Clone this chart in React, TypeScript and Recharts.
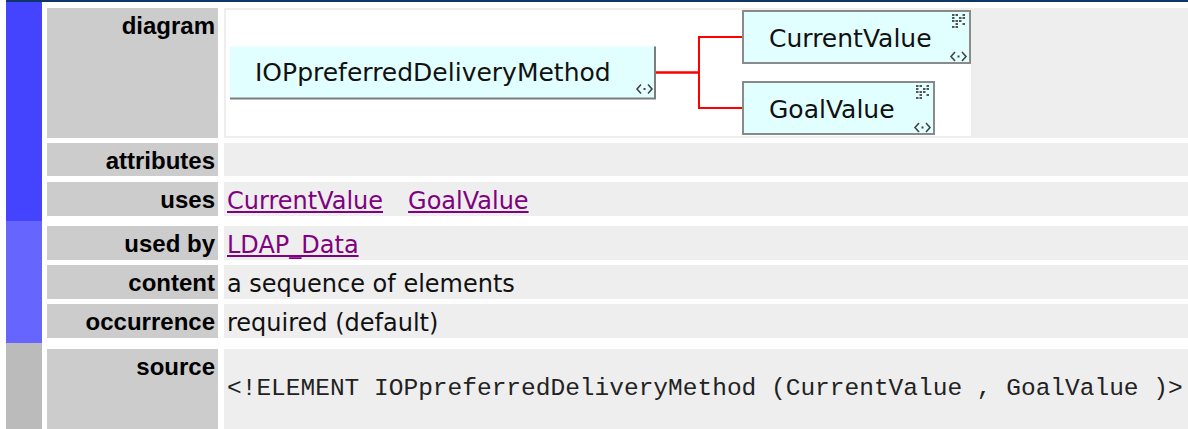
import React from 'react';
import { ComposedChart, Line, Scatter, XAxis, YAxis } from 'recharts';

// schema tree shown in the "diagram" row
const nodeNames = ['IOPpreferredDeliveryMethod', 'CurrentValue', 'GoalValue'];
const nodeLevels = [0, 1, 1]; // 0 = element, 1 = its children
const nodeRows = [0.5, 0, 1];
const nodeParents = [-1, 0, 0];

// documentation rows
const rowLabels = ['diagram', 'attributes', 'uses', 'used by', 'content', 'occurrence', 'source'];
const usesLinks = ['CurrentValue', 'GoalValue'];
const usedByLinks = ['LDAP_Data'];
const contentText = 'a sequence of elements';
const occurrenceText = 'required (default)';
const sourceText = '<!ELEMENT IOPpreferredDeliveryMethod (CurrentValue , GoalValue )>';

// layout (pixels)
const rowTops = [8, 143, 182, 226, 265, 304, 349];
const rowHeights = [130, 33, 34, 34, 34, 34, 80];
const boxWidth: Record<string, number> = { IOPpreferredDeliveryMethod: 426, CurrentValue: 229, GoalValue: 193 };

const LABEL_FONT = '"Liberation Sans", Arial, sans-serif';
const TEXT_FONT = '"DejaVu Sans", Verdana, sans-serif';
const MONO_FONT = '"Liberation Mono", "Courier New", monospace';

const nodes = nodeNames.map((name, i) => ({ name, level: nodeLevels[i], row: nodeRows[i] }));
const links = nodeParents
  .map((p, i) => (p < 0 ? null : [
    { level: nodeLevels[p], row: nodeRows[p] },
    { level: nodeLevels[i], row: nodeRows[i] },
  ]))
  .filter(Boolean) as { level: number; row: number }[][];

const AnyIcon = ({ x, y }: { x: number; y: number }) => (
  <g stroke="#444" strokeWidth={1.6} fill="none">
    <path d={`M${x + 4},${y} L${x},${y + 4.5} L${x + 4},${y + 9}`} />
    <path d={`M${x + 11},${y} L${x + 15},${y + 4.5} L${x + 11},${y + 9}`} />
    <rect x={x + 6.5} y={y + 3.5} width={2} height={2} fill="#444" stroke="none" />
  </g>
);

const gridDots = [
  [0, 0], [1, 0], [3, 0],
  [0, 1], [2, 1], [3, 1],
  [0, 2], [1, 2], [2, 2],
  [1, 3], [3, 3],
  [0, 4], [1, 4],
];

const SeqIcon = ({ x, y }: { x: number; y: number }) => (
  <g fill="#555">
    {gridDots.map(([c, r], i) => (
      <rect key={i} x={x + c * 3.5} y={y + r * 3} width={2.5} height={2} />
    ))}
  </g>
);

const NodeShape = (props: any) => {
  const { cx, cy, payload } = props;
  const w = boxWidth[payload.name];
  if (payload.level === 0) {
    const x = cx - w;
    const top = cy - 26;
    const h = 52;
    return (
      <g>
        <rect x={x} y={top} width={w} height={h} fill="#e2ffff" />
        <path d={`M${cx - 1},${top} L${cx - 1},${top + h} L${x},${top + h}`} stroke="#7c7c7c" strokeWidth={2} fill="none" />
        <text x={x + 25} y={cy + 8} fontFamily={TEXT_FONT} fontSize={25} fill="#111">{payload.name}</text>
        <AnyIcon x={cx - 19} y={top + h - 14} />
      </g>
    );
  }
  const x = cx + 1;
  const top = cy - 26;
  return (
    <g>
      <rect x={x} y={top} width={w - 2} height={52} fill="#e2ffff" stroke="#8a8a8a" strokeWidth={2} />
      <text x={cx + 27} y={cy + 10} fontFamily={TEXT_FONT} fontSize={25} fill="#111">{payload.name}</text>
      <SeqIcon x={cx + w - 19} y={top + 3} />
      <AnyIcon x={cx + w - 20} y={top + 41} />
    </g>
  );
};

function Diagram() {
  return (
    <ComposedChart width={745} height={126} margin={{ top: 27, right: 229, bottom: 28, left: 430 }}>
      <XAxis dataKey="level" type="number" domain={[0, 1]} hide />
      <YAxis dataKey="row" type="number" domain={[0, 1]} reversed hide />
      {links.map((d, i) => (
        <Line
          key={i}
          data={d}
          dataKey="row"
          type="step"
          stroke="#ff0000"
          strokeWidth={2}
          dot={false}
          activeDot={false}
          isAnimationActive={false}
        />
      ))}
      <Scatter data={nodes} dataKey="row" shape={NodeShape} isAnimationActive={false} />
    </ComposedChart>
  );
}

const linkStyle: React.CSSProperties = { color: '#800080', textDecoration: 'underline' };

function rowContent(label: string) {
  switch (label) {
    case 'diagram':
      return (
        <div style={{ position: 'absolute', left: 2, top: 2, width: 745, height: 126, background: '#fff' }}>
          <Diagram />
        </div>
      );
    case 'uses':
      return usesLinks.map((l, i) => (
        <span key={l} style={{ ...linkStyle, marginRight: i < usesLinks.length - 1 ? 25 : 0 }}>{l}</span>
      ));
    case 'used by':
      return usedByLinks.map((l) => <span key={l} style={linkStyle}>{l}</span>);
    case 'content':
      return contentText;
    case 'occurrence':
      return occurrenceText;
    case 'source':
      return (
        <div style={{ fontFamily: MONO_FONT, fontSize: 24.5, lineHeight: '28px', paddingTop: 21, whiteSpace: 'pre', color: '#222' }}>
          {sourceText}
        </div>
      );
    default:
      return null;
  }
}

export default function App() {
  return (
    <div style={{ position: 'absolute', left: 0, top: 0, width: 1188, height: 429, background: '#fff', overflow: 'hidden' }}>
      <div style={{ position: 'absolute', left: 6, top: 0, width: 1182, height: 2, background: '#0e3567' }} />
      <div style={{ position: 'absolute', left: 6, top: 2, width: 36, height: 219, background: '#4444ff' }} />
      <div style={{ position: 'absolute', left: 6, top: 221, width: 36, height: 122, background: '#6666ff' }} />
      <div style={{ position: 'absolute', left: 6, top: 343, width: 36, height: 86, background: '#bbbbbb' }} />
      {rowLabels.map((label, i) => (
        <React.Fragment key={label}>
          <div
            style={{
              position: 'absolute', left: 47, top: rowTops[i], width: 171, height: rowHeights[i],
              background: '#cccccc', boxSizing: 'border-box', paddingTop: 4, paddingRight: 3,
              textAlign: 'right', fontFamily: LABEL_FONT, fontWeight: 'bold', fontSize: 24, lineHeight: '28px', color: '#000',
            }}
          >
            {label}
          </div>
          <div
            style={{
              position: 'absolute', left: 224, top: rowTops[i], width: 964, height: rowHeights[i],
              background: '#eeeeee', boxSizing: 'border-box', paddingTop: 5, paddingLeft: 3,
              fontFamily: TEXT_FONT, fontSize: 24, lineHeight: '28px', color: '#111', whiteSpace: 'nowrap',
            }}
          >
            {rowContent(label)}
          </div>
        </React.Fragment>
      ))}
    </div>
  );
}
